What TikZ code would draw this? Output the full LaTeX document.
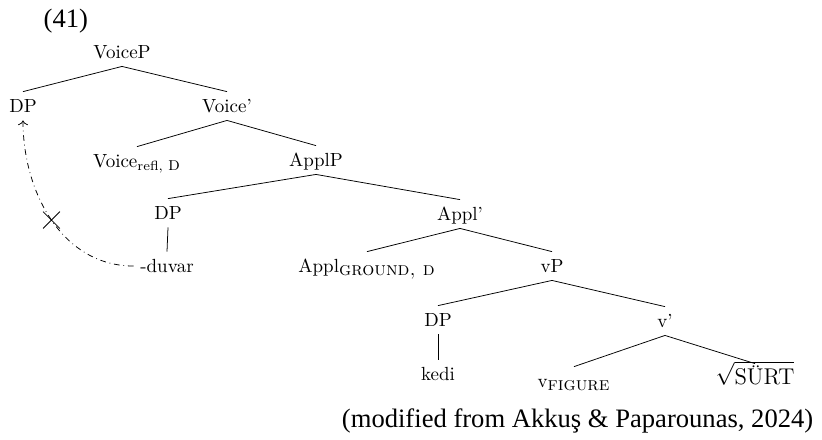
\documentclass[tikz,border=0pt]{standalone}
\usepackage{amsmath}
\usepackage{fontspec}
\newfontfamily\capfont{Liberation Serif}
\usetikzlibrary{arrows.meta,   % arrow tips
                shapes.misc}   % cross out

\begin{document}
\begin{tikzpicture}[x=0.5263pt, y=-0.5263pt,
    cat/.style={anchor=base, text height=7.2pt, text depth=0.9pt},
    big/.style={font=\capfont\fontsize{14}{16}\selectfont},
    move/.style={dash dot, -{To}}]
  \useasboundingbox (0,0) rectangle (822,439);

  \node[big, anchor=base west] (exnum) at (37,27) {(41)};

  % tree nodes at their baselines
  \node[cat] (voiceP)    at (122,58)  {VoiceP};
  \node[cat] (dpA)       at (23,112)  {DP};
  \node[cat] (voiceBar)  at (227,112) {Voice'};
  \node[cat] (voiceHead) at (137,167) {Voice$_{\text{refl, }\mbox{\textsc{d}}}$};
  \node[cat] (applP)     at (316,166) {ApplP};
  \node[cat] (dpB)       at (168,219) {DP};
  \node[cat] (applBar)   at (460,220) {Appl'};
  \node[cat] (duvar)     at (167,272) {-duvar};
  \node[cat] (applHead)  at (367,272) {Appl$_{\mbox{\textsc{ground, d}}}$};
  \node[cat] (vP)        at (552,272) {vP};
  \node[cat] (dpC)       at (438,326) {DP};
  \node[cat] (vBar)      at (665,327) {v'};
  \node[cat] (kedi)      at (438,380) {kedi};
  \node[cat] (vHead)     at (574,387) {v$_{\mbox{\textsc{figure}}}$};
  \node[cat, font=\large] (root) at (755,384) {$\sqrt{\mbox{SÜRT}}$};

  % branches
  \foreach \p/\c in {voiceP/dpA, voiceP/voiceBar, voiceBar/voiceHead, voiceBar/applP,
                     applP/dpB, applP/applBar, dpB/duvar, applBar/applHead, applBar/vP,
                     vP/dpC, vP/vBar, dpC/kedi, vBar/vHead, vBar/root}
    \draw (\p.south) -- (\c.north);

  % blocked movement
  \draw[move] (duvar.west) to[out=180, in=-90]
    node[pos=0.5, draw, solid, cross out, minimum size=8.5pt, inner sep=0pt] (xmark) {}
    (dpA.south);

  \node[big, anchor=base east] (source) at (820,427) {(modified from Akkuş \& Paparounas, 2024)};
\end{tikzpicture}
\end{document}
